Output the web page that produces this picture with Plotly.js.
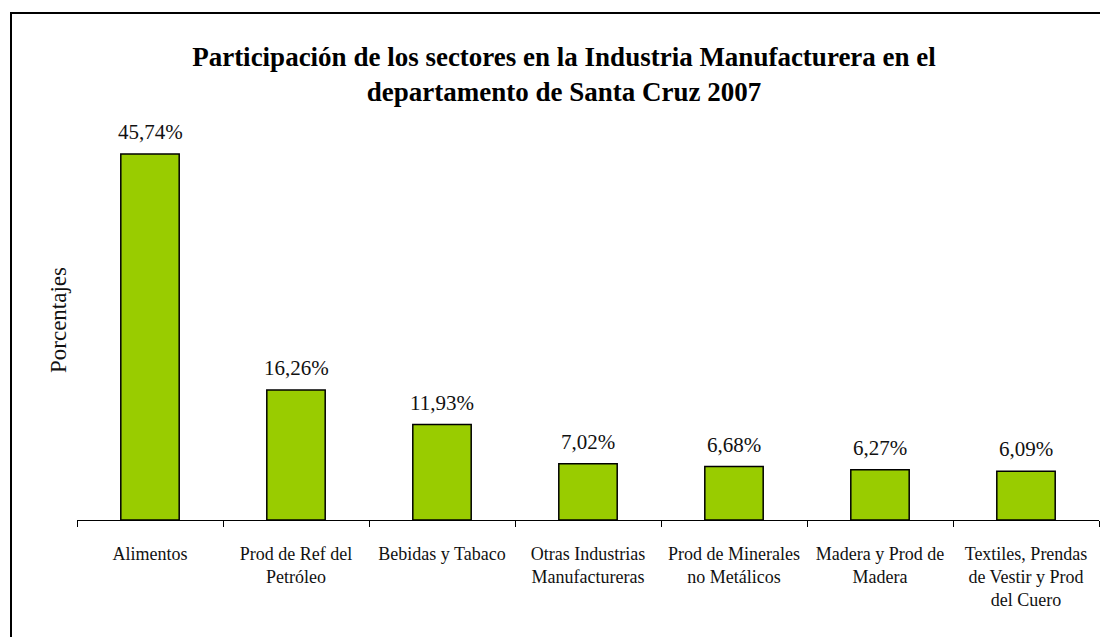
<!DOCTYPE html>
<html>
<head>
<meta charset="utf-8">
<script src="https://cdn.plot.ly/plotly-3.0.1.min.js"></script>
<style>html,body{margin:0;padding:0;background:#fff;}</style>
</head>
<body>
<div id="chart" style="width:1100px;height:637px;"></div>
<script>
const categories = [
  "Alimentos",
  "Prod de Ref del<br>Petróleo",
  "Bebidas y Tabaco",
  "Otras Industrias<br>Manufactureras",
  "Prod de Minerales<br>no Metálicos",
  "Madera y Prod de<br>Madera",
  "Textiles, Prendas<br>de Vestir y Prod<br>del Cuero"
];
const values = [45.74, 16.26, 11.93, 7.02, 6.68, 6.27, 6.09];
const labels = ["45,74%", "16,26%", "11,93%", "7,02%", "6,68%", "6,27%", "6,09%"];

const serif = '"Liberation Serif"';

const trace = {
  type: "bar",
  x: categories,
  y: values,
  marker: {color: "#99cc00", line: {color: "#000", width: 1.5}},
  width: 0.4,
  hoverinfo: "skip"
};

const L = 77, R = 1099, T = 120, B = 520;
const pw = R - L, ph = B - T;
const px = v => (v - L) / pw;
const py = v => (B - v) / ph;

const valueLabels = categories.map((c, i) => ({
  x: c, y: values[i], xref: "x", yref: "y",
  text: labels[i], showarrow: false,
  xanchor: "center", yanchor: "middle", yshift: 22,
  font: {family: serif, size: 21, color: "#111"}
}));

const layout = {
  width: 1100, height: 637, autosize: false,
  margin: {l: L, r: 1100 - R, t: T, b: 637 - B, pad: 0},
  paper_bgcolor: "#fff", plot_bgcolor: "#fff",
  showlegend: false,
  title: {
    text: "<b>Participación de los sectores en la Industria Manufacturera en el<br>departamento de Santa Cruz 2007</b>",
    font: {family: serif, size: 27, color: "#000"},
    x: px(564), xref: "paper", xanchor: "center",
    y: 1 - 66 / 637, yref: "container", yanchor: "middle"
  },
  xaxis: {
    type: "category",
    showline: true, linecolor: "#000", linewidth: 1,
    ticks: "outside", ticklen: 6, tickcolor: "#000", tickwidth: 1,
    tickson: "boundaries",
    ticklabelstandoff: 17,
    tickfont: {family: serif, size: 18, color: "#111"},
    showgrid: false, zeroline: false, fixedrange: true
  },
  yaxis: {
    range: [0, 50],
    showline: false, showticklabels: false, ticks: "",
    showgrid: false, zeroline: false, fixedrange: true
  },
  annotations: valueLabels.concat([{
    text: "Porcentajes", textangle: -90,
    xref: "paper", yref: "paper",
    x: px(58), y: py(320), xanchor: "center", yanchor: "middle",
    showarrow: false,
    font: {family: serif, size: 23, color: "#111"}
  }]),
  shapes: [{
    type: "rect", xref: "paper", yref: "paper",
    x0: px(11), x1: px(1110), y0: py(650), y1: py(13),
    line: {color: "#000", width: 2}, fillcolor: "rgba(0,0,0,0)"
  }]
};

Plotly.newPlot("chart", [trace], layout, {staticPlot: true, displayModeBar: false});
</script>
</body>
</html>
